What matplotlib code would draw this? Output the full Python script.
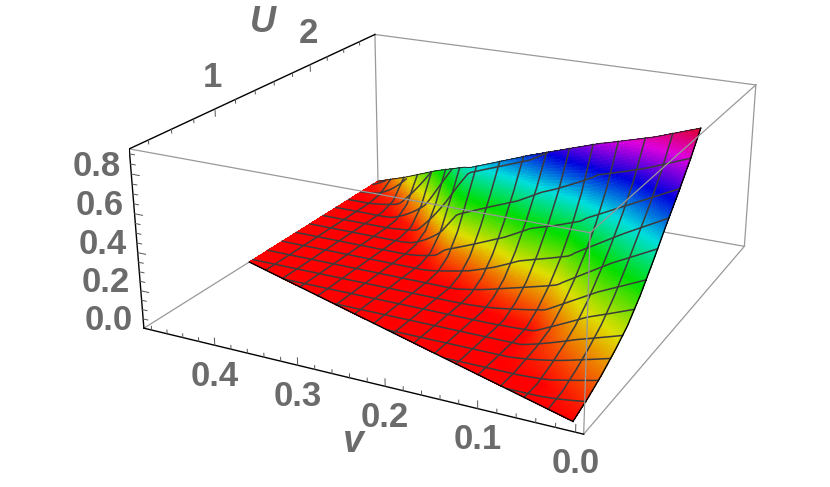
import numpy as np
import matplotlib
matplotlib.use('Agg')
import matplotlib.pyplot as plt
from matplotlib.colors import hsv_to_rgb
from mpl_toolkits.mplot3d import proj3d

plt.rcParams['font.family'] = ['Liberation Sans', 'DejaVu Sans']

# values, each row runs from the front edge to the back edge
frac_grid = np.array([0, .1, .2, .3, .4, .5, .6, .7, .8, .9, 1])
v_grid = np.array([.01, .06, .12, .18, .24, .30, .36, .42, .49])
z_v01 = [0, .03, .07, .12, .18, .27, .38, .50, .61, .73, .865]
z_v06 = [0, 0, .03, .07, .12, .19, .28, .38, .49, .62, .79]
z_v12 = [0, 0, 0, 0, .01, .06, .13, .22, .34, .50, .72]
z_v18 = [0, 0, 0, 0, 0, .03, .09, .19, .31, .45, .62]
z_v24 = [0, 0, 0, 0, 0, 0, .03, .10, .22, .36, .52]
z_v30 = [0, 0, 0, 0, 0, 0, 0, .03, .12, .27, .42]
z_v36 = [0, 0, 0, 0, 0, 0, 0, 0, .02, .12, .29]
z_v42 = [0, 0, 0, 0, 0, 0, 0, 0, 0, .03, .15]
z_v49 = [0, 0, 0, 0, 0, 0, 0, 0, 0, 0, 0]
Z_grid = np.array([z_v01, z_v06, z_v12, z_v18, z_v24, z_v30, z_v36, z_v42, z_v49])

# edges of the plotted region
low_v = [.01, .49]
low_U = [.33, 1.25]
high_v = [.01, .114, .21, .288, .355, .49]
high_U = [2.08, 2.03, 2.11, 2.11, 2.36, 2.80]

U_lim = (.24, 2.8)
v_lim = (-.008, .49)
z_lim = (0, .925)
v_ticks = [0, .1, .2, .3, .4]
z_ticks = [0, .2, .4, .6, .8]
U_ticks = [1, 2]
grey = '#6b6b6b'


def edges(v):
    return np.interp(v, low_v, low_U), np.interp(v, high_v, high_U)


def z_frac(f, v):
    i = np.clip(np.searchsorted(frac_grid, f) - 1, 0, len(frac_grid) - 2)
    j = np.clip(np.searchsorted(v_grid, v) - 1, 0, len(v_grid) - 2)
    a = (f - frac_grid[i]) / (frac_grid[i + 1] - frac_grid[i])
    b = (v - v_grid[j]) / (v_grid[j + 1] - v_grid[j])
    return ((1 - a) * (1 - b) * Z_grid[j, i] + a * (1 - b) * Z_grid[j, i + 1]
            + (1 - a) * b * Z_grid[j + 1, i] + a * b * Z_grid[j + 1, i + 1])


def hue_colors(z):
    h = np.clip(z / .89, 0, 1)
    val = 1 - .13 * np.clip(h * 6, 0, 1)
    return hsv_to_rgb(np.dstack([h * .999, np.ones_like(h), val]))


fig = plt.figure(figsize=(8.3, 4.87), dpi=100)
ax = fig.add_axes([128.65 / 830, -48.22 / 487, 649.6 / 830, 649.6 / 487], projection='3d', computed_zorder=False)
ax.set_xlim(*U_lim, view_margin=0)
ax.set_ylim(*v_lim, view_margin=0)
ax.set_zlim(*z_lim, view_margin=0)
ax.view_init(21.02, -153.41, 0)
ax.set_proj_type('persp', focal_length=.4397)
ax.set_box_aspect((1, .9993, .3994))
ax.set_axis_off()
ax.patch.set_alpha(0)

U0, U1 = U_lim
v0, v1 = v_lim
z0, z1 = z_lim


def box_line(p, q, color='#999999', lw=.9, zorder=1):
    ax.plot([p[0], q[0]], [p[1], q[1]], [p[2], q[2]], color=color, lw=lw, zorder=zorder)


# back of the box
box_line((U0, v1, z0), (U1, v1, z0))
box_line((U1, v1, z0), (U1, v1, z1))
box_line((U1, v1, z0), (U1, v0, z0))
box_line((U1, v0, z0), (U1, v0, z1))
box_line((U1, v1, z1), (U1, v0, z1))
box_line((U0, v0, z0), (U1, v0, z0))

# surface
f_fine = np.linspace(0, 1, 130)
v_fine = np.linspace(low_v[0], low_v[1], 130)
V, F = np.meshgrid(v_fine, f_fine)
lo, hi = edges(V)
U = lo + F * (hi - lo)
Z = z_frac(F, V)
ax.plot_surface(U, V, Z, facecolors=hue_colors(Z), rstride=1, cstride=1, shade=False,
                antialiased=False, linewidth=0, zorder=2)

# mesh
mesh_color = '#3c3c3c'
for k in range(1, 16):
    vm = low_v[0] + (low_v[1] - low_v[0]) * k / 16
    a, b = edges(vm)
    vv = np.full_like(f_fine, vm)
    ax.plot(a + f_fine * (b - a), vv, z_frac(f_fine, vv), color=mesh_color, lw=1.1, zorder=3)
lo1, hi1 = edges(v_fine)
for k in range(1, 16):
    um = low_U[0] + .16 * k
    keep = (lo1 <= um) & (hi1 >= um)
    vv = v_fine[keep]
    ff = (um - lo1[keep]) / (hi1[keep] - lo1[keep])
    ax.plot(np.full_like(vv, um), vv, z_frac(ff, vv), color=mesh_color, lw=1.1, zorder=3)
ax.plot(lo1, v_fine, z_frac(np.zeros_like(v_fine), v_fine), color='black', lw=1, zorder=3)
ax.plot(hi1, v_fine, z_frac(np.ones_like(v_fine), v_fine), color='#222222', lw=.7, zorder=3)
vv = np.full_like(f_fine, low_v[0])
ax.plot(lo1[0] + f_fine * (hi1[0] - lo1[0]), vv, z_frac(f_fine, vv), color='black', lw=1, zorder=3)

# front of the box, over the surface
box_line((U0, v0, z0), (U0, v0, z1), zorder=4)
box_line((U0, v1, z1), (U0, v0, z1), zorder=4)
box_line((U0, v0, z1), (U1, v0, z1), zorder=4)

# axes edges and ticks
box_line((U0, v1, z0), (U0, v0, z0), color='black', lw=1, zorder=5)
box_line((U0, v1, z0), (U0, v1, z1), color='black', lw=1, zorder=5)
box_line((U0, v1, z1), (U1, v1, z1), color='black', lw=1, zorder=5)
for t in np.arange(0, .49, .02):
    h = .038 if round(t * 100) % 10 == 0 else .02
    box_line((U0, t, z0), (U0, t, z0 + h), color='#555555', lw=.7, zorder=5)
for t in np.arange(.4, 2.8, .2):
    h = .038 if abs(t - round(t)) < .01 else .02
    box_line((t, v1, z1), (t, v1, z1 - h), color='#555555', lw=.7, zorder=5)
for t in np.arange(.05, .92, .05):
    h = .01 if round(t * 100) % 20 == 0 else .006
    box_line((U0, v1, t), (U0, v1 - h, t), color='#555555', lw=.7, zorder=5)

M = ax.get_proj()


def label(txt, p, off):
    x, y, _ = proj3d.proj_transform(p[0], p[1], p[2], M)
    ax.annotate(txt, xy=(x, y), xytext=off, textcoords='offset pixels', ha='center', va='center',
                fontsize=25, fontweight='bold', color=grey, annotation_clip=False)


for t in v_ticks:
    label(f'{t:.1f}', (U0, t, z0), (0, -31))
for t in z_ticks:
    label(f'{t:.1f}', (U0, v1, t), (-35, 8))
for t in U_ticks:
    label(f'{t}', (t, v1, z1), (-2, 31))

ax.text2D(263 / 830, 1 - 22 / 487, 'U', transform=fig.transFigure, ha='center', va='center',
          fontsize=26, fontweight='bold', style='italic', color=grey)
ax.text2D(353 / 830, 1 - 442 / 487, 'v', transform=fig.transFigure, ha='center', va='center',
          fontsize=27, fontweight='bold', style='italic', color=grey)

fig.savefig('out.png', dpi=100)
